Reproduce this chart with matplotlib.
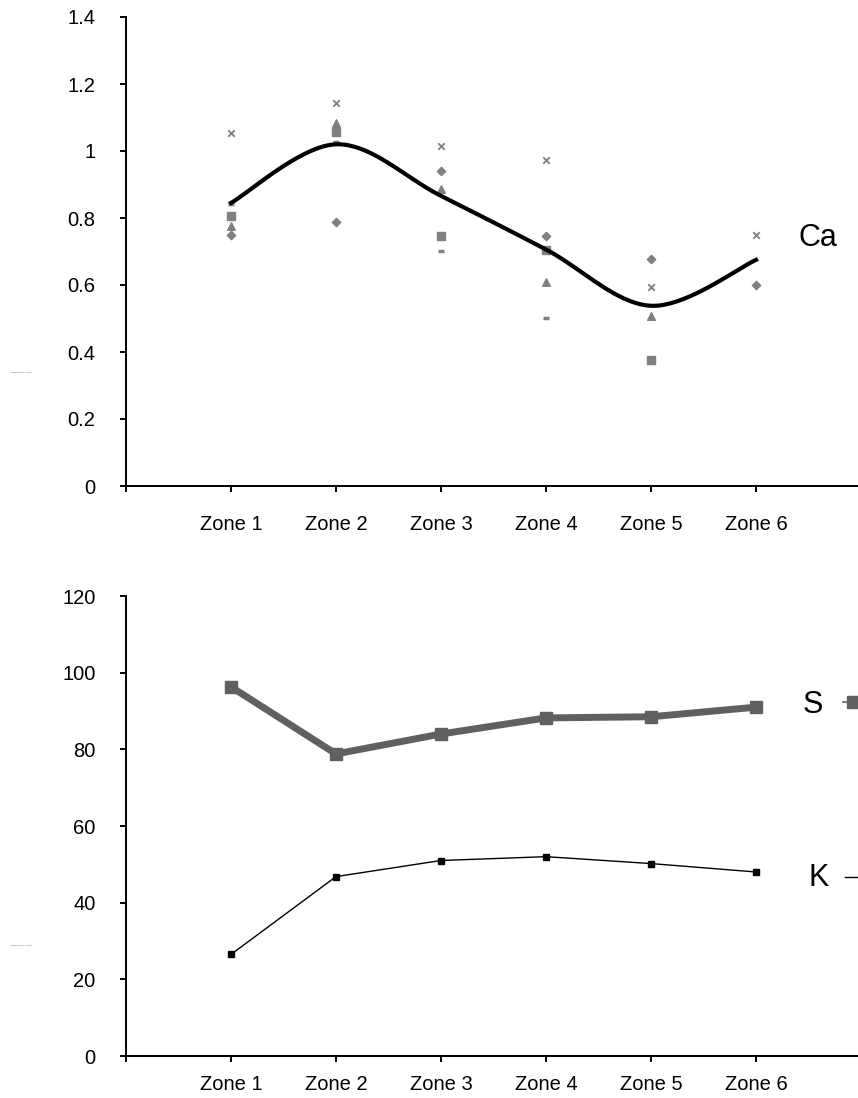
import matplotlib
matplotlib.use("Agg")
import matplotlib.pyplot as plt
from matplotlib.ticker import FormatStrFormatter
import numpy as np

plt.rcParams['font.family'] = ['Liberation Sans', 'DejaVu Sans']

# Datos
zonas = ["Zone 1", "Zone 2", "Zone 3", "Zone 4", "Zone 5", "Zone 6"]

# Ca: cinco series de puntos (NaN = sin dato) y la media
ca_cruz = [1.054, 1.143, 1.015, 0.973, 0.595, 0.749]
ca_rombo = [0.749, 0.788, 0.940, 0.746, 0.678, 0.600]
ca_triang = [0.776, 1.084, 0.887, 0.609, 0.507, np.nan]
ca_cuadro = [0.806, 1.057, 0.746, 0.704, 0.376, np.nan]
ca_guion = [0.842, 1.027, 0.701, 0.501, np.nan, np.nan]
ca_media = [0.845, 1.020, 0.866, 0.706, 0.538, 0.675]

# S y K
s_vals = [96.3, 78.8, 84.0, 88.2, 88.5, 91.0]
k_vals = [26.5, 46.8, 51.0, 52.0, 50.2, 48.0]

x = np.arange(len(zonas))
gris = '#808080'


def suavizado(xs, ys, n=40):
    # curva tipo Excel (Catmull-Rom como Bezier)
    xs = np.asarray(xs, float)
    ys = np.asarray(ys, float)
    px, py = [], []
    m = len(xs)
    t = np.linspace(0, 1, n)
    for i in range(m - 1):
        i0, i3 = max(i - 1, 0), min(i + 2, m - 1)
        p0 = np.array([xs[i], ys[i]])
        p3 = np.array([xs[i + 1], ys[i + 1]])
        c1 = p0 + (np.array([xs[i + 1], ys[i + 1]]) - np.array([xs[i0], ys[i0]])) / 6
        c2 = p3 - (np.array([xs[i3], ys[i3]]) - np.array([xs[i], ys[i]])) / 6
        for tt in t:
            b = ((1 - tt) ** 3) * p0 + 3 * ((1 - tt) ** 2) * tt * c1 + 3 * (1 - tt) * tt ** 2 * c2 + tt ** 3 * p3
            px.append(b[0])
            py.append(b[1])
    return px, py


fig = plt.figure(figsize=(8.58, 10.98), dpi=100)
ax1 = fig.add_axes([126 / 858, 1 - 486 / 1098, 840 / 858, 469 / 1098])
ax2 = fig.add_axes([126 / 858, 1 - 1056 / 1098, 840 / 858, 460 / 1098])

for ax in (ax1, ax2):
    ax.spines['top'].set_visible(False)
    ax.spines['right'].set_visible(False)
    ax.spines['left'].set_linewidth(1.4)
    ax.spines['bottom'].set_linewidth(1.4)
    ax.set_xlim(-1, 7)
    ax.set_xticks(range(-1, 7))
    ax.set_xticklabels([''] + zonas + [''])
    ax.tick_params(axis='x', direction='out', length=4, width=1.4, pad=17, labelsize=14.5)
    ax.tick_params(axis='y', direction='out', length=4, width=1.4, pad=18, labelsize=14.5)
ax2.tick_params(axis='x', pad=10)

# --- panel Ca ---
ax1.scatter(x, ca_cruz, marker='x', s=22, color=gris, linewidths=1.3, zorder=3)
ax1.scatter(x, ca_rombo, marker='D', s=18, color=gris, zorder=3)
ax1.scatter(x, ca_triang, marker='^', s=30, color=gris, zorder=3)
ax1.scatter(x, ca_cuadro, marker='s', s=26, color=gris, zorder=3)
ax1.scatter(x, ca_guion, marker='_', s=20, color=gris, linewidths=2.5, zorder=3)
cx, cy = suavizado(x, ca_media)
ax1.plot(cx, cy, color='black', lw=3, zorder=4)
ax1.set_ylim(0, 1.4)
ax1.set_yticks(np.arange(0, 1.41, 0.2))
ax1.yaxis.set_major_formatter(FormatStrFormatter('%g'))
ax1.text(5.59, 0.74, 'Ca', fontsize=22, ha='center', va='center')

# --- panel S y K ---
ax2.plot(x, s_vals, color='#606060', lw=5, marker='s', ms=9, zorder=3)
ax2.plot(x, k_vals, color='black', lw=1, marker='s', ms=5, zorder=3)
ax2.set_ylim(0, 120)
ax2.set_yticks(range(0, 121, 20))
ax2.text(5.54, 91.5, 'S', fontsize=22, ha='center', va='center')
ax2.text(5.6, 46.5, 'K', fontsize=22, ha='center', va='center')
ax2.plot([5.83, 6.1], [92.4, 92.4], color='#606060', lw=1.2, clip_on=False)
ax2.plot([5.92], [92.4], color='#606060', marker='s', ms=9, clip_on=False)
ax2.plot([5.85, 6.1], [46.8, 46.8], color='black', lw=1, clip_on=False)

# etiquetas diminutas del eje y
fig.text(10 / 858, 1 - 372 / 1098, 'Concentration (% dry)', fontsize=1.6, color='#555555', va='center')
fig.text(10 / 858, 1 - 945 / 1098, 'Concentration (% dry)', fontsize=1.6, color='#555555', va='center')

fig.savefig('out.png', dpi=100)
